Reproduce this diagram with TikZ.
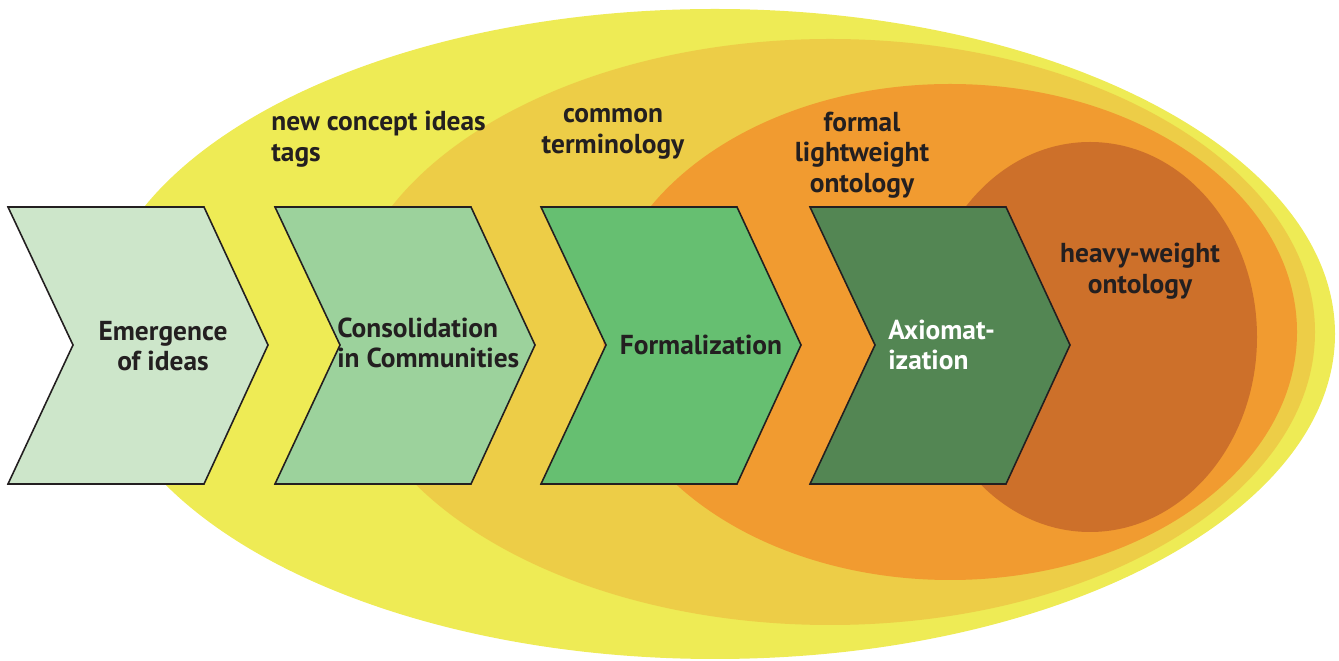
\documentclass[tikz,border=0pt]{standalone}
\usepackage{fontspec}
\setmainfont{PT Sans}
\definecolor{ideaYellow}{HTML}{EEEB55}
\definecolor{termGold}{HTML}{EDCD47}
\definecolor{lightOrange}{HTML}{F19B30}
\definecolor{heavyOrange}{HTML}{CD702A}
\definecolor{chevA}{HTML}{CDE6CA}
\definecolor{chevB}{HTML}{9CD29C}
\definecolor{chevC}{HTML}{66BF71}
\definecolor{chevD}{HTML}{538653}
\definecolor{inkDark}{HTML}{231F20}
\def\chevron[#1](#2,#3){\draw[#1] (#2,#3) -- ++(196,0) -- ++(64,138) -- ++(-64,139) -- ++(-196,0) -- ++(65,-139) -- cycle;}
\tikzset{
  stagetext/.style={text=inkDark, font=\bfseries\fontsize{15.6}{17.4}\selectfont, inner sep=0pt},
  chevline/.style={draw=inkDark, line width=0.9pt, line join=miter}
}

\begin{document}
\begin{tikzpicture}[x=0.02cm, y=-0.02cm]
			%%%%% LAYERS %%%%%
			\useasboundingbox (0,0) rectangle (1339,661);
			
			\fill[ideaYellow] (715, 334) ellipse [x radius=620, y radius=325];
			\fill[termGold] (830, 332) ellipse [x radius=485, y radius=293];
			\fill[lightOrange] (950, 332) ellipse [x radius=347, y radius=248];
			\fill[heavyOrange] (1090, 337) ellipse [x radius=167, y radius=195];
			
			%%%%% CHEVRONS %%%%%
			\chevron[chevline, fill=chevA](8, 207);
			\chevron[chevline, fill=chevB](275, 207);
			\chevron[chevline, fill=chevC](541, 207);
			\chevron[chevline, fill=chevD](810, 207);
			
			%%%%% TEXT %%%%%
			\node[stagetext, align=center] (emergence) at (163, 346) {Emergence\\of ideas};
			\node[stagetext, align=left, anchor=west] (consolidation) at (337, 343) {Consolidation\\in Communities};
			\node[stagetext, align=center] (formalization) at (701, 345) {Formalization};
			\node[stagetext, align=left, anchor=west, text=white] (axiomatization) at (888, 345) {Axiomat-\\ization};
			
			\node[stagetext, align=left, anchor=west] (tags) at (271, 139) {new concept ideas\\tags};
			\node[stagetext, align=center] (terminology) at (613, 134) {common\\terminology};
			\node[stagetext, align=center] (lightweight) at (862, 155) {formal\\lightweight\\ontology};
			\node[stagetext, align=center] (heavyweight) at (1140, 271) {heavy-weight\\ontology};
			
			%%%%% END %%%%%
\end{tikzpicture}
\end{document}
